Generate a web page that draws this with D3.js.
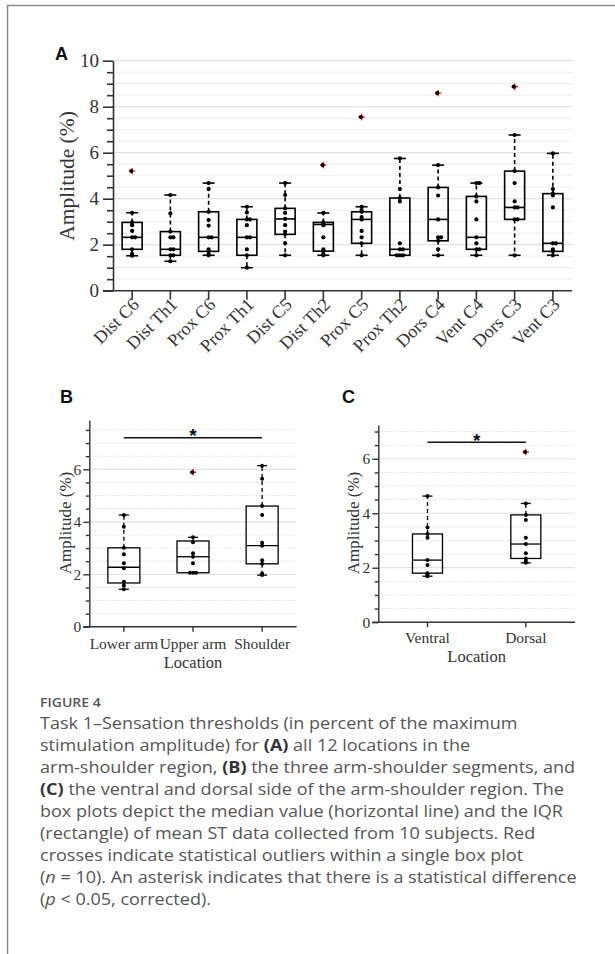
<!DOCTYPE html>
<html>
<head>
<meta charset="utf-8">
<script src="https://cdn.jsdelivr.net/npm/d3@7"></script>
<style>
  html, body { margin: 0; padding: 0; background: #fff; }
  svg { display: block; }
</style>
</head>
<body>
<svg id="fig" width="615" height="954"></svg>
<script>
// ---- Panel A: 12 stimulation locations ----
const locationsA = ["Dist C6", "Dist Th1", "Prox C6", "Prox Th1", "Dist C5", "Dist Th2",
                    "Prox C5", "Prox Th2", "Dors C4", "Vent C4", "Dors C3", "Vent C3"];
const q1A  = [1.80, 1.54, 1.71, 1.54, 2.45, 1.72, 2.06, 1.54, 2.17, 1.80, 3.10, 1.71];
const medA = [2.32, 1.80, 2.32, 2.32, 3.12, 2.88, 3.10, 1.80, 3.10, 2.32, 3.62, 2.06];
const q3A  = [2.97, 2.57, 3.43, 3.10, 3.58, 2.97, 3.43, 4.03, 4.49, 4.10, 5.20, 4.22];
const loA  = [1.52, 1.28, 1.54, 1.00, 1.54, 1.54, 1.54, 1.54, 1.54, 1.54, 1.54, 1.54];
const hiA  = [3.39, 4.16, 4.68, 3.65, 4.68, 3.38, 3.65, 5.75, 5.46, 4.68, 6.77, 5.97];
const outA = [[5.20], [], [], [], [], [5.46], [7.55], [], [8.59], [], [8.87], []];
const ptsA = [
  [1.52, 1.60, 1.80, 2.32, 2.32, 2.60, 2.85, 2.97, 3.39],
  [1.28, 1.54, 1.54, 1.80, 1.80, 2.32, 2.32, 2.57, 3.36, 4.16],
  [1.54, 1.60, 1.80, 2.32, 2.32, 2.83, 3.07, 3.43, 4.42, 4.68],
  [1.00, 1.54, 1.80, 2.32, 2.32, 2.85, 3.10, 3.10, 3.40, 3.65],
  [1.54, 2.06, 2.45, 2.57, 2.85, 3.12, 3.38, 3.58, 4.16, 4.68],
  [1.54, 1.60, 1.72, 1.80, 2.32, 2.85, 2.88, 2.97, 3.38],
  [1.54, 2.06, 2.32, 2.60, 3.10, 3.20, 3.43, 3.50, 3.65],
  [1.54, 1.54, 1.54, 1.80, 1.80, 2.06, 3.88, 4.03, 4.42, 5.75],
  [1.54, 1.80, 2.17, 2.32, 2.32, 3.10, 4.14, 4.49, 5.46],
  [1.54, 1.80, 1.80, 2.06, 2.32, 3.10, 3.88, 4.10, 4.68, 4.68],
  [1.54, 3.10, 3.10, 3.62, 3.62, 3.88, 4.68, 5.20, 6.77],
  [1.54, 1.71, 1.80, 2.06, 2.06, 3.62, 4.14, 4.22, 4.42, 5.97]
];
const yTicksA = [0, 2, 4, 6, 8, 10];

// ---- Panel B: three arm-shoulder segments ----
const segmentsB = ["Lower arm", "Upper arm", "Shoulder"];
const q1B  = [1.67, 2.06, 2.40];
const medB = [2.27, 2.67, 3.09];
const q3B  = [3.01, 3.27, 4.60];
const loB  = [1.43, 2.06, 1.97];
const hiB  = [4.26, 3.41, 6.14];
const outB = [[], [5.89], []];
const ptsB = [
  [1.43, 1.57, 1.72, 2.23, 2.42, 2.76, 3.01, 3.81, 4.26],
  [2.06, 2.06, 2.06, 2.42, 2.67, 2.80, 3.22, 3.41],
  [1.97, 2.03, 2.40, 2.54, 3.09, 3.20, 4.26, 4.60, 5.64, 6.14]
];
const sigB = { from: 0, to: 2, level: 7.2 };
const yTicksB = [0, 2, 4, 6];

// ---- Panel C: ventral vs dorsal ----
const sidesC = ["Ventral", "Dorsal"];
const q1C  = [1.80, 2.34];
const medC = [2.28, 2.87];
const q3C  = [3.24, 3.94];
const loC  = [1.69, 2.18];
const hiC  = [4.63, 4.36];
const outC = [[], [6.25]];
const ptsC = [
  [1.69, 1.75, 1.80, 2.10, 2.28, 3.10, 3.24, 3.48, 4.63],
  [2.18, 2.25, 2.34, 2.53, 2.87, 3.10, 3.75, 3.94, 4.36]
];
const sigC = { from: 0, to: 1, level: 6.61 };
const yTicksC = [0, 2, 4, 6];

const svg = d3.select("#fig");

// figure frame (top and left rules)
svg.append("line").attr("x1", 7).attr("x2", 615).attr("y1", 5.5).attr("y2", 5.5)
  .attr("stroke", "#8a8a8a").attr("stroke-width", 1.5);
svg.append("line").attr("x1", 7.5).attr("x2", 7.5).attr("y1", 5).attr("y2", 954)
  .attr("stroke", "#8a8a8a").attr("stroke-width", 1.5);

const SERIF = "'Liberation Serif', 'Times New Roman', serif";
const SANS  = "'Liberation Sans', Arial, sans-serif";

function drawPanel(o) {
  const g = svg.append("g");
  const x = d3.scaleBand().domain(o.cats).range([o.left, o.right]).padding(0);
  const y = d3.scaleLinear().domain([0, o.ymax]).range([o.bottom, o.top]);
  const halfSteps = d3.range(0, o.ymax + 1e-9, 0.5);
  const isMajor = v => o.yTicks.includes(v);

  // grid: solid at labelled ticks, dotted at the half steps in between
  g.append("g").selectAll("line").data(halfSteps.filter(v => v > 0)).join("line")
    .attr("x1", o.left).attr("x2", o.right)
    .attr("y1", d => y(d)).attr("y2", d => y(d))
    .attr("stroke", d => isMajor(d) ? "#e2e2e2" : "#d6d6d6")
    .attr("stroke-width", d => isMajor(d) ? 1.2 : 1)
    .attr("stroke-dasharray", d => isMajor(d) ? null : "1.2,2");

  // y axis: long ticks at labelled values, short ones at half steps
  const ya = g.append("g").attr("transform", `translate(${o.left},0)`)
    .call(d3.axisLeft(y).tickValues(halfSteps).tickSize(o.majorLen).tickSizeOuter(0)
      .tickFormat(d => isMajor(d) ? d : ""));
  ya.select(".domain").attr("stroke", "#333").attr("stroke-width", o.axisW);
  ya.selectAll(".tick line").attr("stroke", "#333").attr("stroke-width", o.axisW)
    .attr("x2", d => isMajor(d) ? -o.majorLen : -o.minorLen);
  ya.selectAll(".tick text").attr("font-family", SERIF).attr("font-size", o.yFont)
    .attr("fill", "#333").attr("x", -(o.majorLen + o.yLabGap));

  // x axis
  const xa = g.append("g").attr("transform", `translate(0,${o.bottom})`)
    .call(d3.axisBottom(x).tickSize(o.xTickLen).tickSizeOuter(0));
  xa.select(".domain").attr("stroke", "#333").attr("stroke-width", o.axisW)
    .attr("d", `M${o.left - o.majorLen},0H${o.right}`);
  xa.selectAll(".tick line").attr("stroke", "#333").attr("stroke-width", o.axisW);
  const xt = xa.selectAll(".tick text").attr("font-family", SERIF).attr("font-size", o.xFont)
    .attr("fill", "#333");
  if (o.rotate) {
    xt.attr("x", null).attr("y", null).attr("dy", null)
      .attr("text-anchor", "end")
      .attr("transform", `translate(${o.rotDx},${o.rotDy}) rotate(-45)`);
  } else {
    xt.attr("y", o.xLabY - o.bottom).attr("dy", null);
  }

  // axis titles
  g.append("text").attr("transform", `translate(${o.yTitleX},${o.yTitleY}) rotate(-90)`)
    .attr("text-anchor", "middle").attr("dominant-baseline", "central")
    .attr("font-family", SERIF).attr("font-size", o.yTitleFont).attr("fill", "#333")
    .text("Amplitude (%)");
  if (o.xTitle) {
    g.append("text").attr("x", (o.left + o.right) / 2).attr("y", o.xTitleY)
      .attr("text-anchor", "middle").attr("font-family", SERIF)
      .attr("font-size", o.xTitleFont).attr("fill", "#333").text(o.xTitle);
  }

  // panel letter
  g.append("text").attr("x", o.letterX).attr("y", o.letterY)
    .attr("font-family", SANS).attr("font-weight", "bold").attr("font-size", 18)
    .attr("fill", "#111").text(o.letter);

  // boxes
  const rows = o.cats.map((c, i) => ({
    c, q1: o.q1[i], med: o.med[i], q3: o.q3[i], lo: o.lo[i], hi: o.hi[i],
    out: o.out[i], pts: o.pts[i]
  }));
  const cx = d => x(d.c) + x.bandwidth() / 2;
  const bw = o.boxW, cap = o.capW;
  const bg = g.append("g").selectAll("g").data(rows).join("g");

  // dashed whiskers
  bg.append("line").attr("x1", cx).attr("x2", cx)
    .attr("y1", d => y(d.q3)).attr("y2", d => y(d.hi))
    .attr("stroke", "#000").attr("stroke-width", o.lineW).attr("stroke-dasharray", "4,3");
  bg.append("line").attr("x1", cx).attr("x2", cx)
    .attr("y1", d => y(d.q1)).attr("y2", d => y(d.lo))
    .attr("stroke", "#000").attr("stroke-width", o.lineW).attr("stroke-dasharray", "4,3");
  // whisker caps
  bg.append("line").attr("x1", d => cx(d) - cap / 2).attr("x2", d => cx(d) + cap / 2)
    .attr("y1", d => y(d.hi)).attr("y2", d => y(d.hi))
    .attr("stroke", "#000").attr("stroke-width", o.lineW);
  bg.append("line").attr("x1", d => cx(d) - cap / 2).attr("x2", d => cx(d) + cap / 2)
    .attr("y1", d => y(d.lo)).attr("y2", d => y(d.lo))
    .attr("stroke", "#000").attr("stroke-width", o.lineW);
  // IQR box
  bg.append("rect").attr("x", d => cx(d) - bw / 2).attr("width", bw)
    .attr("y", d => y(d.q3)).attr("height", d => y(d.q1) - y(d.q3))
    .attr("fill", "none").attr("stroke", "#000").attr("stroke-width", o.lineW);
  // median
  bg.append("line").attr("x1", d => cx(d) - bw / 2).attr("x2", d => cx(d) + bw / 2)
    .attr("y1", d => y(d.med)).attr("y2", d => y(d.med))
    .attr("stroke", "#000").attr("stroke-width", o.lineW);

  // subject means: repeated values are nudged apart sideways
  bg.each(function (d) {
    const seen = {};
    const dots = d.pts.map(v => {
      const k = v.toFixed(2);
      seen[k] = (seen[k] || 0) + 1;
      const n = seen[k] - 1;
      const off = n === 0 ? 0 : (n % 2 ? 1 : -1) * Math.ceil(n / 2) * 3;
      return { v, off };
    });
    d3.select(this).selectAll("circle.pt").data(dots).join("circle").attr("class", "pt")
      .attr("cx", p => cx(d) + p.off).attr("cy", p => y(p.v)).attr("r", o.dotR).attr("fill", "#000");
    // outliers: red cross with the subject dot on top
    const og = d3.select(this).selectAll("g.out").data(d.out).join("g").attr("class", "out")
      .attr("transform", v => `translate(${cx(d)},${y(v)})`);
    og.append("path").attr("d", "M-3.2,0H3.2M0,-3.2V3.2").attr("stroke", "#ff1a1a").attr("stroke-width", 1.4);
    og.append("circle").attr("cx", -0.8).attr("r", o.dotR).attr("fill", "#000");
  });

  // significance bar and asterisk
  if (o.sig) {
    const x1 = x(o.cats[o.sig.from]) + x.bandwidth() / 2;
    const x2 = x(o.cats[o.sig.to]) + x.bandwidth() / 2;
    g.append("line").attr("x1", x1).attr("x2", x2)
      .attr("y1", y(o.sig.level)).attr("y2", y(o.sig.level))
      .attr("stroke", "#111").attr("stroke-width", 1.5);
    g.append("text").attr("x", (x1 + x2) / 2).attr("y", y(o.sig.level) + 4.5)
      .attr("text-anchor", "middle").attr("font-family", SANS).attr("font-weight", "bold")
      .attr("font-size", 19).attr("fill", "#111").text("*");
  }
}

drawPanel({
  letter: "A", letterX: 55, letterY: 60,
  cats: locationsA, q1: q1A, med: medA, q3: q3A, lo: loA, hi: hiA, out: outA, pts: ptsA,
  yTicks: yTicksA, ymax: 10,
  left: 113, right: 572, top: 60.7, bottom: 290.7,
  majorLen: 10, minorLen: 6, xTickLen: 9, yLabGap: 4, axisW: 1.6, lineW: 1.6,
  yFont: 19, xFont: 18, yTitleFont: 21.5, yTitleX: 67, yTitleY: 176,
  rotate: true, rotDx: 8, rotDy: 15,
  boxW: 20, capW: 12, dotR: 2.1
});

drawPanel({
  letter: "B", letterX: 60, letterY: 403,
  cats: segmentsB, q1: q1B, med: medB, q3: q3B, lo: loB, hi: hiB, out: outB, pts: ptsB,
  yTicks: yTicksB, ymax: 7.88, sig: sigB,
  left: 89.3, right: 296.7, top: 420, bottom: 626.8,
  majorLen: 6, minorLen: 3.5, xTickLen: 5, yLabGap: 2, axisW: 1.4, lineW: 1.3,
  yFont: 15.5, xFont: 15.5, xTitleFont: 16.5, yTitleFont: 17, yTitleX: 65, yTitleY: 523,
  xLabY: 649, xTitle: "Location", xTitleY: 667.5,
  boxW: 32, capW: 10, dotR: 2
});

drawPanel({
  letter: "C", letterX: 342, letterY: 403,
  cats: sidesC, q1: q1C, med: medC, q3: q3C, lo: loC, hi: hiC, out: outC, pts: ptsC,
  yTicks: yTicksC, ymax: 7.24, sig: sigC,
  left: 378.3, right: 575, top: 425, bottom: 622.2,
  majorLen: 6, minorLen: 3.5, xTickLen: 5, yLabGap: 2, axisW: 1.4, lineW: 1.3,
  yFont: 15.5, xFont: 15.5, xTitleFont: 16.5, yTitleFont: 17, yTitleX: 353.5, yTitleY: 523,
  xLabY: 643.3, xTitle: "Location", xTitleY: 662,
  boxW: 30, capW: 10, dotR: 2
});

// ---- caption ----
const captionTitle = "FIGURE 4";
const captionLines = [
  [["Task 1–Sensation thresholds (in percent of the maximum", ""]],
  [["stimulation amplitude) for ", ""], ["(A)", "b"], [" all 12 locations in the", ""]],
  [["arm-shoulder region, ", ""], ["(B)", "b"], [" the three arm-shoulder segments, and", ""]],
  [["(C)", "b"], [" the ventral and dorsal side of the arm-shoulder region. The", ""]],
  [["box plots depict the median value (horizontal line) and the IQR", ""]],
  [["(rectangle) of mean ST data collected from 10 subjects. Red", ""]],
  [["crosses indicate statistical outliers within a single box plot", ""]],
  [["(", ""], ["n", "i"], [" = 10). An asterisk indicates that there is a statistical difference", ""]],
  [["(", ""], ["p", "i"], [" < 0.05, corrected).", ""]]
];
const CAP = "'Open Sans', 'Noto Sans', sans-serif";
const capLeft = 40;
svg.append("text").attr("transform", `translate(${capLeft},706.7) scale(1.08,1)`)
  .attr("font-family", CAP).attr("font-weight", 600).attr("font-size", 13)
  .attr("fill", "#555").text(captionTitle);
// body set in a wide cut: Open Sans widened horizontally
const cap = svg.append("text").attr("transform", `translate(${capLeft},0) scale(1.1,1)`)
  .attr("font-family", CAP).attr("font-size", 16.4).attr("fill", "#555");
captionLines.forEach((line, i) => {
  line.forEach(([t, s], j) => {
    const ts = cap.append("tspan").text(t);
    if (j === 0) ts.attr("x", 0).attr("y", 729 + 22 * i);
    if (s === "b") ts.attr("font-weight", 700).attr("fill", "#333");
    if (s === "i") ts.attr("font-style", "italic");
  });
});
</script>
</body>
</html>
